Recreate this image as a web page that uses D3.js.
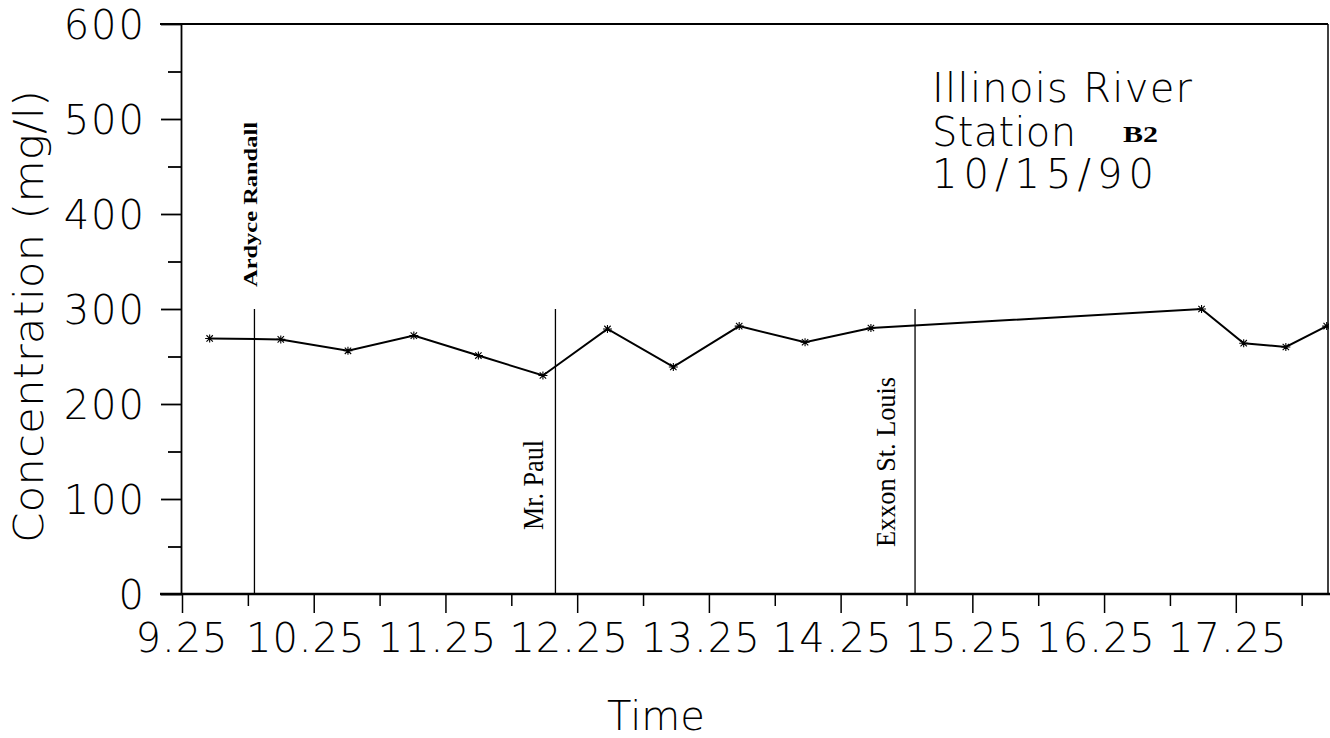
<!DOCTYPE html>
<html>
<head>
<meta charset="utf-8">
<script src="https://cdn.jsdelivr.net/npm/d3@7/dist/d3.min.js"></script>
<style>
  html, body { margin: 0; padding: 0; background: #fff; }
  svg { display: block; }
  .sans { font-family: "DejaVu Sans", sans-serif; font-weight: 200; fill: #000; }
  .serif { font-family: "Liberation Serif", "Times New Roman", serif; fill: #000; }
</style>
</head>
<body>
<svg id="chart" width="1330" height="738"></svg>
<script>
// ---- data ----
const timeValues = [9.46, 10.0, 10.51, 11.01, 11.50, 11.99, 12.48, 12.98, 13.48, 13.98, 14.48, 16.99, 17.31, 17.63, 17.94];
const concValues = [269, 268, 256, 272, 251, 230, 279, 239, 282, 265, 280, 300, 264, 260, 282];
const eventNames = ["Ardyce Randall", "Mr. Paul", "Exxon St. Louis"];
const eventTimes = [9.80, 12.085, 14.815];
const eventTops = [300, 300, 300];
const xMajorTicks = [9.25, 10.25, 11.25, 12.25, 13.25, 14.25, 15.25, 16.25, 17.25];
const xMinorTicks = [9.75, 10.75, 11.75, 12.75, 13.75, 14.75, 15.75, 16.75, 17.75];
const yMajorTicks = [0, 100, 200, 300, 400, 500, 600];
const yMinorTicks = [50, 150, 250, 350, 450, 550];
const xDomain = [9.25, 17.95];
const yDomain = [0, 600];
const annotationLines = ["Illinois  River", "Station", "10/15/90"];
const stationCode = "B2";
const xTitle = "Time";
const yTitle = "Concentration  (mg/l)";

// ---- layout ----
const svg = d3.select("#chart");
const pL = 182, pR = 1328, pT = 24, pB = 594;
const x = d3.scaleLinear().domain(xDomain).range([pL, pR]);
const y = d3.scaleLinear().domain(yDomain).range([pB, pT]);

// frame top & right
svg.append("line").attr("x1", 160).attr("x2", pR).attr("y1", y(600)).attr("y2", y(600))
  .attr("stroke", "#000").attr("stroke-width", 2);
svg.append("line").attr("x1", pR).attr("x2", pR).attr("y1", y(600)).attr("y2", y(0))
  .attr("stroke", "#000").attr("stroke-width", 1.5);

// x axis
const xAxisMajor = d3.axisBottom(x).tickValues(xMajorTicks).tickSize(19).tickSizeOuter(0).tickFormat("");
const xAxisMinor = d3.axisBottom(x).tickValues(xMinorTicks).tickSize(12).tickSizeOuter(0).tickFormat("");
const gxm = svg.append("g").attr("transform", `translate(0,${pB})`).call(xAxisMinor);
const gx = svg.append("g").attr("transform", `translate(0,${pB})`).call(xAxisMajor);
[gx, gxm].forEach(g => {
  g.select(".domain").remove();
  g.selectAll(".tick line").attr("stroke", "#000").attr("stroke-width", 1.5);
});
svg.append("line").attr("x1", 160).attr("x2", 1330).attr("y1", pB).attr("y2", pB)
  .attr("stroke", "#000").attr("stroke-width", 2.5);
svg.append("g").selectAll("text").data(xMajorTicks).join("text")
  .attr("class", "sans")
  .attr("x", d => x(d) + (String(d).length > 4 ? -8 : 0))
  .attr("y", 652)
  .attr("text-anchor", "middle")
  .attr("font-size", 40)
  .attr("letter-spacing", 1)
  .text(d => String(d));

// y axis
const yAxisMajor = d3.axisLeft(y).tickValues(yMajorTicks).tickSize(21).tickSizeOuter(0).tickFormat("");
const yAxisMinor = d3.axisLeft(y).tickValues(yMinorTicks).tickSize(14).tickSizeOuter(0).tickFormat("");
const gym = svg.append("g").attr("transform", `translate(${pL},0)`).call(yAxisMinor);
const gy = svg.append("g").attr("transform", `translate(${pL},0)`).call(yAxisMajor);
[gy, gym].forEach(g => {
  g.select(".domain").remove();
  g.selectAll(".tick line").attr("stroke", "#000").attr("stroke-width", 1.8);
});
svg.append("line").attr("x1", pL - 0.5).attr("x2", pL - 0.5).attr("y1", y(600)).attr("y2", y(0))
  .attr("stroke", "#000").attr("stroke-width", 1.8);
svg.append("g").selectAll("text").data(yMajorTicks).join("text")
  .attr("class", "sans")
  .attr("x", 146)
  .attr("y", d => y(d) + 14.5)
  .attr("text-anchor", "end")
  .attr("font-size", 40)
  .attr("letter-spacing", 2)
  .text(d => String(d));

// axis titles
svg.append("text").attr("class", "sans")
  .attr("x", 656).attr("y", 730).attr("text-anchor", "middle").attr("font-size", 40)
  .text(xTitle);
svg.append("text").attr("class", "sans")
  .attr("transform", "translate(43,543) rotate(-90)")
  .attr("font-size", 40)
  .attr("textLength", 453).attr("lengthAdjust", "spacingAndGlyphs")
  .text(yTitle);

// event lines
svg.append("g").selectAll("line").data(eventTimes).join("line")
  .attr("x1", d => x(d)).attr("x2", d => x(d))
  .attr("y1", (d, i) => y(eventTops[i])).attr("y2", y(0))
  .attr("stroke", "#000").attr("stroke-width", 1.3);

// event labels (rotated)
const labelStyle = [
  { dx: 3, yb: 287, size: 18, weight: "bold", len: 165 },
  { dx: -12, yb: 530, size: 30, weight: "normal", len: 90 },
  { dx: -20, yb: 547, size: 27, weight: "normal", len: 170 }
];
svg.append("g").selectAll("text").data(eventNames).join("text")
  .attr("class", "serif")
  .attr("transform", (d, i) => `translate(${x(eventTimes[i]) + labelStyle[i].dx},${labelStyle[i].yb}) rotate(-90)`)
  .attr("font-size", (d, i) => labelStyle[i].size)
  .attr("font-weight", (d, i) => labelStyle[i].weight)
  .attr("textLength", (d, i) => labelStyle[i].len)
  .attr("lengthAdjust", "spacingAndGlyphs")
  .text(d => d);

// data line
svg.append("clipPath").attr("id", "plotclip").append("rect")
  .attr("x", pL).attr("y", pT).attr("width", pR - pL + 1).attr("height", pB - pT);
const pts = timeValues.map((t, i) => [t, concValues[i]]);
const line = d3.line().x(d => x(d[0])).y(d => y(d[1]));
const gData = svg.append("g").attr("clip-path", "url(#plotclip)");
gData.append("path").datum(pts).attr("d", line)
  .attr("fill", "none").attr("stroke", "#000").attr("stroke-width", 2);
const star = "M-4.5,0L4.5,0M-3.2,-3.2L3.2,3.2M-3.2,3.2L3.2,-3.2M0,-4L0,4";
gData.selectAll("path.mk").data(pts).join("path").attr("class", "mk")
  .attr("transform", d => `translate(${x(d[0])},${y(d[1])})`)
  .attr("d", star).attr("fill", "none").attr("stroke", "#000").attr("stroke-width", 1.1);

// annotation
const ann = svg.append("g");
const annLens = [260, 144, 222];
const annBase = [102, 146, 188];
ann.selectAll("text").data(annotationLines).join("text")
  .attr("class", "sans")
  .attr("x", 932)
  .attr("y", (d, i) => annBase[i])
  .attr("font-size", 40)
  .attr("textLength", (d, i) => annLens[i])
  .attr("lengthAdjust", "spacing")
  .text(d => d);
ann.append("text").attr("class", "serif")
  .attr("x", 1123).attr("y", 142)
  .attr("font-size", 23).attr("font-weight", "bold")
  .attr("textLength", 35).attr("lengthAdjust", "spacingAndGlyphs")
  .text(stationCode);
</script>
</body>
</html>
